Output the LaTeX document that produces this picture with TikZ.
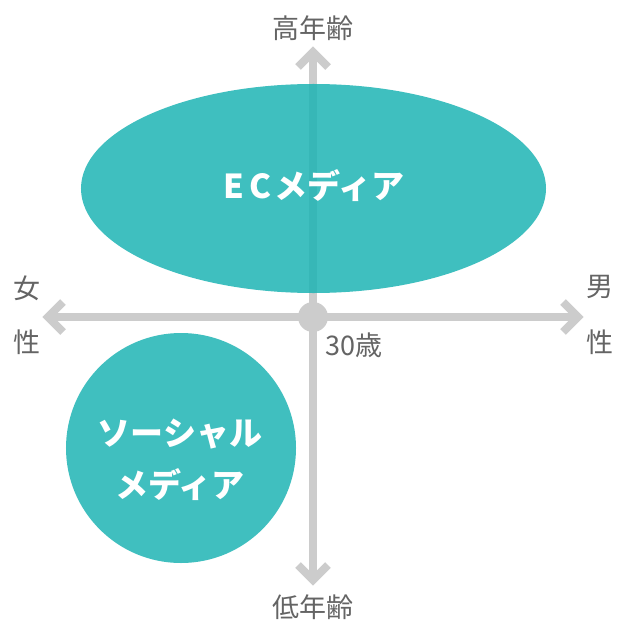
\documentclass[tikz,border=0pt]{standalone}
\usepackage{fontspec}
\setmainfont{Noto Sans CJK JP}
\usetikzlibrary{shapes.geometric}
\definecolor{teal1}{RGB}{30,180,180}
\definecolor{axisgray}{RGB}{204,204,204}
\definecolor{labelgray}{RGB}{100,100,100}
\tikzset{
  axisline/.style={draw=axisgray, line width=8bp, line cap=butt},
  chevron/.style={draw=axisgray, line width=8bp, line cap=butt, line join=miter},
  axislabel/.style={text=labelgray, font=\fontsize{27bp}{32bp}\selectfont, inner sep=0pt},
  bubble/.style={fill=teal1, fill opacity=0.85, text opacity=1, text=white, inner sep=0pt,
    font=\fontsize{33bp}{52bp}\selectfont\bfseries, align=center},
}
\begin{document}
\begin{tikzpicture}[x=1bp,y=-1bp]
\useasboundingbox[fill=white] (0,0) rectangle (618,624);
% axes
\coordinate (top) at (313,52);
\coordinate (bottom) at (313,580);
\coordinate (left) at (48,317);
\coordinate (right) at (578,317);
\coordinate (origin) at (313,317);
\draw[axisline] (top) -- (bottom);
\draw[axisline] (left) -- (right);
\draw[chevron] ([xshift=-15bp,yshift=-15bp]top) -- (top) -- ([xshift=15bp,yshift=-15bp]top);
\draw[chevron] ([xshift=-15bp,yshift=15bp]bottom) -- (bottom) -- ([xshift=15bp,yshift=15bp]bottom);
\draw[chevron] ([xshift=15bp,yshift=-15bp]left) -- (left) -- ([xshift=15bp,yshift=15bp]left);
\draw[chevron] ([xshift=-15bp,yshift=-15bp]right) -- (right) -- ([xshift=-15bp,yshift=15bp]right);
\node[circle, fill=axisgray, minimum size=30bp, inner sep=0pt] (dot) at (origin) {};
% labels
\node[axislabel] (high) at (313,28) {高年齢};
\node[axislabel] (low) at (313,607) {低年齢};
\node[axislabel] (female1) at (27,288) {女};
\node[axislabel] (female2) at (27,342) {性};
\node[axislabel] (male1) at (600,287) {男};
\node[axislabel] (male2) at (600,342) {性};
\node[axislabel, anchor=west] (age) at (325,345) {30歳};
% bubbles
\node[bubble, ellipse, minimum width=465bp, minimum height=209bp] (ec) at (313.5,188.5) {};
\node[text=white, font=\fontsize{33bp}{40bp}\selectfont\bfseries, inner sep=0pt] (ectext) at (314,186) {E\kern5bp C\kern3bp メディア};
\node[bubble, circle, minimum size=230bp, fill opacity=1, fill=teal1!85] (sns) at (181,448) {};
\node[text=white, font=\fontsize{33bp}{52bp}\selectfont\bfseries, align=center, inner sep=0pt] (snstext) at (180,460) {ソーシャル\\メディア};
\end{tikzpicture}
\end{document}
